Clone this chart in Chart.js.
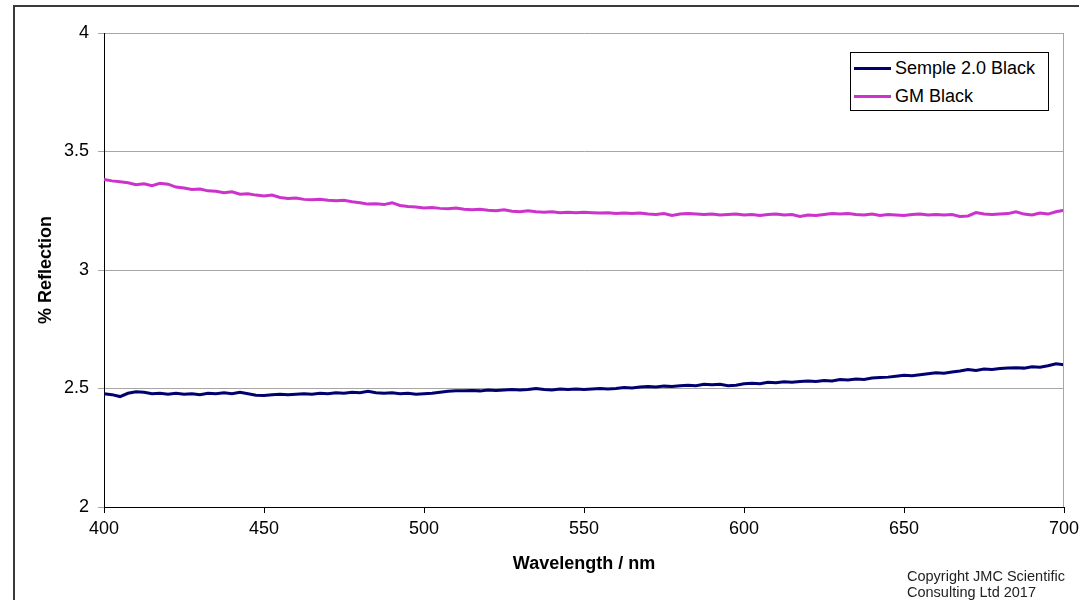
<!DOCTYPE html>
<html><head><meta charset="utf-8">
<script src="https://cdn.jsdelivr.net/npm/chart.js@4/dist/chart.umd.min.js"></script>
<style>
html,body{margin:0;padding:0;background:#fff;overflow:hidden;}
#wrap{position:relative;width:1079px;height:600px;overflow:hidden;}
#frame{position:absolute;left:13px;top:5px;width:1090px;height:620px;border:2px solid #3a3a3a;box-sizing:border-box;pointer-events:none;}
canvas{position:absolute;left:0;top:0;}
#legend{position:absolute;left:850px;top:52px;width:199px;height:59px;border:1px solid #000;background:#fff;box-sizing:border-box;font:18px "Liberation Sans",Arial,sans-serif;color:#000;}
.item{position:absolute;left:3px;height:22px;line-height:22px;white-space:nowrap;}
.swatch{display:inline-block;width:37px;height:3px;vertical-align:middle;margin-right:4px;position:relative;top:-1px;}
#copy{position:absolute;left:907px;top:568px;font:14.5px "Liberation Sans",Arial,sans-serif;line-height:16px;color:#222;}
</style>
</head><body>
<div id="wrap">
<canvas id="c" width="1079" height="600"></canvas>
<div id="legend"></div>
<div id="copy">Copyright JMC Scientific<br>Consulting Ltd 2017</div>
<div id="frame"></div>
</div>
<script>
const wavelengths = [400,402.5,405,407.5,410,412.5,415,417.5,420,422.5,425,427.5,430,432.5,435,437.5,440,442.5,445,447.5,450,452.5,455,457.5,460,462.5,465,467.5,470,472.5,475,477.5,480,482.5,485,487.5,490,492.5,495,497.5,500,502.5,505,507.5,510,512.5,515,517.5,520,522.5,525,527.5,530,532.5,535,537.5,540,542.5,545,547.5,550,552.5,555,557.5,560,562.5,565,567.5,570,572.5,575,577.5,580,582.5,585,587.5,590,592.5,595,597.5,600,602.5,605,607.5,610,612.5,615,617.5,620,622.5,625,627.5,630,632.5,635,637.5,640,642.5,645,647.5,650,652.5,655,657.5,660,662.5,665,667.5,670,672.5,675,677.5,680,682.5,685,687.5,690,692.5,695,697.5,700];

const sempleBlack = [2.478,2.474,2.466,2.480,2.486,2.484,2.478,2.480,2.476,2.480,2.476,2.478,2.474,2.480,2.478,2.482,2.478,2.484,2.478,2.472,2.470,2.474,2.476,2.474,2.476,2.478,2.476,2.480,2.478,2.482,2.480,2.484,2.482,2.488,2.482,2.480,2.482,2.478,2.480,2.476,2.478,2.480,2.484,2.488,2.490,2.490,2.492,2.490,2.494,2.492,2.494,2.496,2.494,2.496,2.500,2.496,2.494,2.498,2.496,2.498,2.496,2.498,2.500,2.498,2.500,2.504,2.502,2.506,2.508,2.506,2.510,2.508,2.512,2.514,2.512,2.518,2.516,2.518,2.512,2.514,2.520,2.522,2.520,2.526,2.524,2.528,2.526,2.530,2.532,2.530,2.534,2.532,2.538,2.536,2.540,2.538,2.544,2.546,2.548,2.552,2.556,2.554,2.558,2.562,2.566,2.564,2.570,2.574,2.580,2.576,2.582,2.580,2.584,2.586,2.588,2.586,2.592,2.590,2.596,2.604,2.600];

const gmBlack = [3.382,3.376,3.372,3.368,3.360,3.364,3.356,3.366,3.362,3.350,3.346,3.340,3.342,3.334,3.332,3.326,3.330,3.320,3.322,3.316,3.312,3.316,3.306,3.302,3.304,3.298,3.296,3.298,3.294,3.292,3.294,3.288,3.284,3.278,3.280,3.276,3.284,3.272,3.268,3.266,3.262,3.264,3.260,3.258,3.262,3.256,3.254,3.256,3.252,3.250,3.254,3.248,3.246,3.250,3.246,3.244,3.246,3.242,3.244,3.242,3.244,3.242,3.240,3.242,3.238,3.240,3.238,3.240,3.236,3.234,3.238,3.230,3.236,3.238,3.236,3.234,3.236,3.232,3.234,3.236,3.232,3.234,3.230,3.234,3.236,3.232,3.234,3.226,3.232,3.230,3.234,3.238,3.236,3.238,3.234,3.232,3.236,3.230,3.234,3.232,3.230,3.234,3.236,3.232,3.234,3.232,3.234,3.226,3.228,3.242,3.236,3.234,3.236,3.238,3.246,3.236,3.232,3.240,3.236,3.246,3.252];

const seriesNames = ['Semple 2.0 Black','GM Black'];
const seriesColors = ['#000070','#cc33cc'];
const xTicks = [400,450,500,550,600,650,700];
const yTicks = [2,2.5,3,3.5,4];
const yTickLabels = ['2','2.5','3','3.5','4'];

const FONT = '"Liberation Sans", Arial, sans-serif';

function pts(vals){ return wavelengths.map((w,i)=>({x:w,y:vals[i]})); }

const frameRight = {
  id:'frameRight',
  afterDraw(chart){
    const {ctx, chartArea:a} = chart;
    ctx.save();
    ctx.strokeStyle = '#a6a6a6';
    ctx.lineWidth = 1;
    ctx.beginPath();
    ctx.moveTo(Math.round(a.right)-0.5, a.top);
    ctx.lineTo(Math.round(a.right)-0.5, a.bottom);
    ctx.stroke();
    ctx.restore();
  }
};

const chart = new Chart(document.getElementById('c'), {
  type:'line',
  data:{
    datasets:[
      {label:seriesNames[0], data:pts(sempleBlack), borderColor:seriesColors[0], backgroundColor:seriesColors[0]},
      {label:seriesNames[1], data:pts(gmBlack), borderColor:seriesColors[1], backgroundColor:seriesColors[1]}
    ]
  },
  options:{
    responsive:false, animation:false,
    layout:{padding:{left:0,right:15,top:33,bottom:0}},
    plugins:{legend:{display:false}, tooltip:{enabled:false}},
    elements:{point:{radius:0}, line:{borderWidth:3, tension:0}},
    scales:{
      x:{
        type:'linear', min:400, max:700,
        afterBuildTicks(s){ s.ticks = xTicks.map(v=>({value:v})); },
        ticks:{color:'#000', font:{size:18, family:FONT}, padding:5, maxRotation:0, autoSkip:false},
        grid:{drawOnChartArea:false, drawTicks:true, tickLength:6, color:'#000'},
        border:{color:'#000', width:1},
        title:{display:true, text:'Wavelength / nm', color:'#000', font:{size:18, weight:'bold', family:FONT}, padding:{top:0,bottom:25}},
        afterFit(s){ s.height = 93; s.paddingRight = 0; s.paddingLeft = 0; }
      },
      y:{
        min:2, max:4,
        afterBuildTicks(s){ s.ticks = yTicks.map(v=>({value:v})); },
        ticks:{color:'#000', font:{size:18, family:FONT}, padding:9,
               callback:(v)=>{ const i = yTicks.indexOf(v); return i>=0 ? yTickLabels[i] : ''; }},
        grid:{color:'#a6a6a6', tickLength:6},
        border:{color:'#000', width:1},
        title:{display:true, text:'% Reflection', color:'#000', font:{size:18, weight:'bold', family:FONT}, padding:{top:35,bottom:0}},
        afterFit(s){ s.width = 104; s.paddingTop = 0; s.paddingBottom = 0; }
      }
    }
  },
  plugins:[frameRight]
});

// HTML legend built from datasets
const lg = document.getElementById('legend');
chart.data.datasets.forEach((ds,i)=>{
  const d = document.createElement('div');
  d.className='item';
  d.style.top = (4 + i*28) + 'px';
  const sw = document.createElement('span');
  sw.className='swatch';
  sw.style.background = ds.borderColor;
  d.appendChild(sw);
  d.appendChild(document.createTextNode(ds.label));
  lg.appendChild(d);
});
</script>
</body></html>
